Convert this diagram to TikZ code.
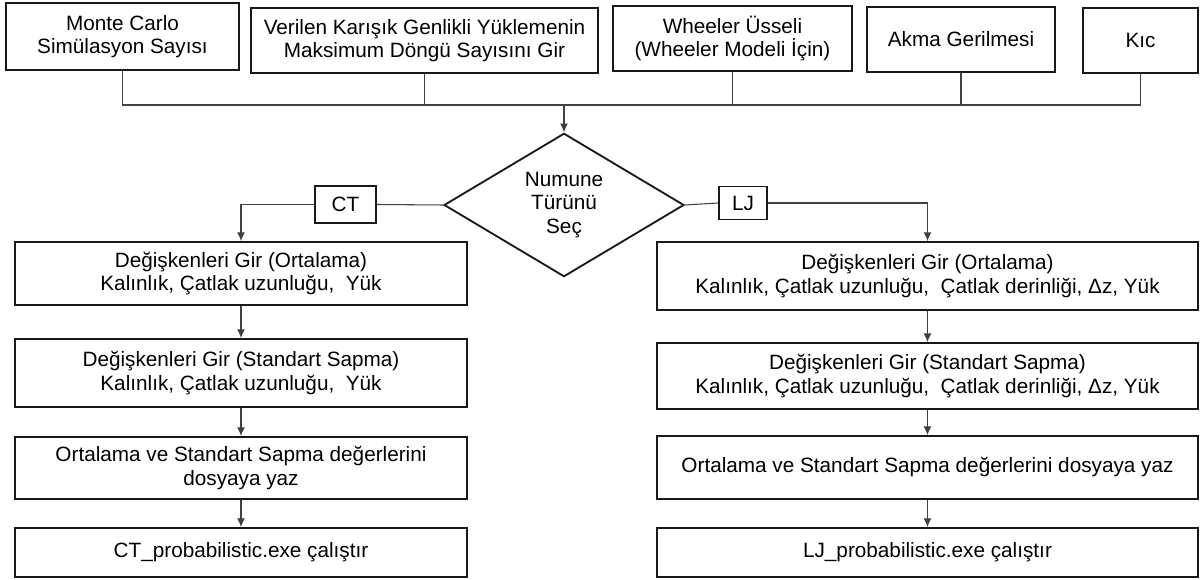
\documentclass[tikz,border=0pt]{standalone}
\usepackage{fontspec}
\setmainfont{Liberation Sans}
\usetikzlibrary{arrows.meta,shapes.geometric}
\begin{document}
\begin{tikzpicture}[x=0.02cm,y=-0.02cm,
  font=\fontsize{11.8}{13.2}\selectfont,
  box/.style={draw=black!90,line width=1.05pt,rectangle,align=center,inner sep=0pt},
  tag/.style={draw=black!90,line width=1.05pt,rectangle,inner sep=0pt,align=center},
  choice/.style={draw=black!90,line width=1.05pt,diamond,align=center,inner sep=0pt},
  link/.style={draw=black!75,line width=0.6pt},
  flow/.style={link,-{Latex[length=5pt,width=4.5pt]}}]
\useasboundingbox (0,0) rectangle (1200,580);

% input boxes along the top
\node[box,minimum width=4.66cm,minimum height=1.34cm] (t1) at (122.5,36.5) {Monte Carlo\\Simülasyon Sayısı};
\node[box,minimum width=6.94cm,minimum height=1.30cm] (t2) at (424.5,40.5) {Verilen Karışık Genlikli Yüklemenin\\Maksimum Döngü Sayısını Gir};
\node[box,minimum width=4.78cm,minimum height=1.30cm] (t3) at (732.5,38.5) {Wheeler Üsseli\\(Wheeler Modeli İçin)};
\node[box,minimum width=3.76cm,minimum height=1.30cm] (t4) at (961,39.5) {Akma Gerilmesi};
\node[box,minimum width=2.30cm,minimum height=1.30cm] (t5) at (1140.5,40.5) {Kıc};

% decision
\node[choice,minimum width=4.8cm,minimum height=2.68cm] (dia) at (564,205) {Numune\\Türünü\\Seç};
\node[tag,minimum width=1.22cm,minimum height=0.74cm] (ct) at (345.5,204.5) {CT};
\node[tag,minimum width=0.96cm,minimum height=0.66cm] (lj) at (743,203) {LJ};

% CT branch
\node[box,minimum width=9.04cm,minimum height=1.26cm] (l1) at (241,273.5) {Değişkenleri Gir (Ortalama)\\Kalınlık, Çatlak uzunluğu,\ \ Yük};
\node[box,minimum width=9.04cm,minimum height=1.36cm] (l2) at (241,373) {Değişkenleri Gir (Standart Sapma)\\Kalınlık, Çatlak uzunluğu,\ \ Yük};
\node[box,minimum width=9.04cm,minimum height=1.24cm] (l3) at (241,468) {Ortalama ve Standart Sapma değerlerini\\dosyaya yaz};
\node[box,minimum width=9.04cm,minimum height=0.98cm] (l4) at (241,552.5) {CT\_probabilistic.exe çalıştır};

% LJ branch
\node[box,minimum width=10.82cm,minimum height=1.36cm] (r1) at (927.5,276) {Değişkenleri Gir (Ortalama)\\Kalınlık, Çatlak uzunluğu,\ \ Çatlak derinliği, Δz, Yük};
\node[box,minimum width=10.82cm,minimum height=1.32cm] (r2) at (927.5,376) {Değişkenleri Gir (Standart Sapma)\\Kalınlık, Çatlak uzunluğu,\ \ Çatlak derinliği, Δz, Yük};
\node[box,minimum width=10.82cm,minimum height=1.26cm] (r3) at (927.5,467.5) {Ortalama ve Standart Sapma değerlerini dosyaya yaz};
\node[box,minimum width=10.82cm,minimum height=0.98cm] (r4) at (927.5,552.5) {LJ\_probabilistic.exe çalıştır};

% collecting bus
\coordinate (bus) at (564,105);
\draw[link] (t1.south) |- (bus) -| (t5.south);
\draw[link] (t2.south) -- (t2.south |- bus);
\draw[link] (t3.south) -- (t3.south |- bus);
\draw[link] (t4.south) -- (t4.south |- bus);
\draw[flow] (bus) -- (dia.north);

% branches
\draw[link] (dia.west) -- (ct.east);
\draw[flow] (ct.west) -| (l1.north);
\draw[link] (dia.east) -- (lj.west);
\draw[flow] (lj.east) -| (r1.north);

\draw[flow] (l1) -- (l2);
\draw[flow] (l2) -- (l3);
\draw[flow] (l3) -- (l4);
\draw[flow] (r1) -- (r2);
\draw[flow] (r2) -- (r3);
\draw[flow] (r3) -- (r4);
\end{tikzpicture}
\end{document}
